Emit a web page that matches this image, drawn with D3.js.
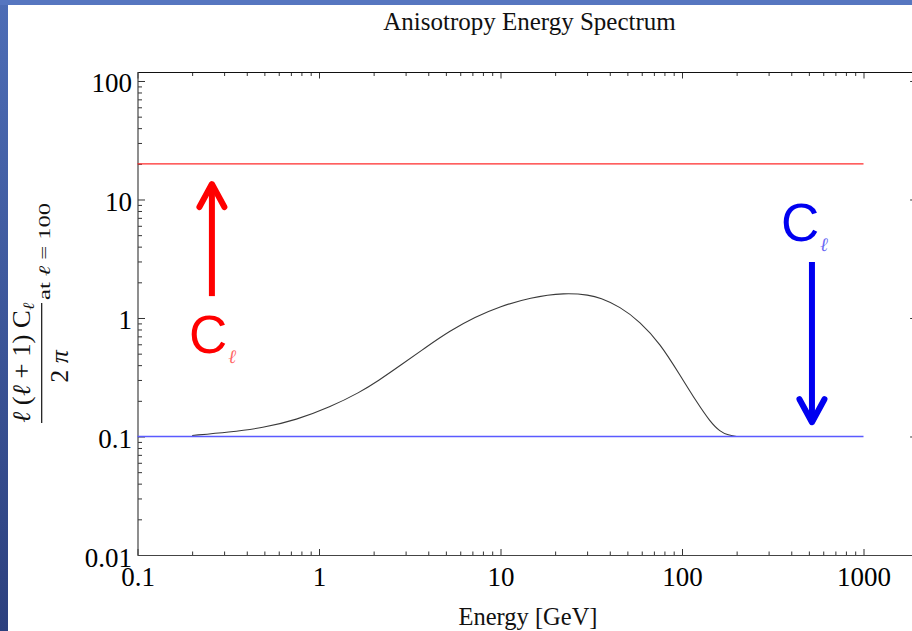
<!DOCTYPE html>
<html><head><meta charset="utf-8">
<script src="https://cdn.jsdelivr.net/npm/d3@7"></script>
<style>html,body{margin:0;padding:0;background:#fff;}svg{display:block;}</style>
</head><body>
<script>
// ---- data ----
const energy   = [0.2, 0.32, 0.49, 0.75, 1.15, 1.68, 2.12, 2.79, 3.84, 5.27, 7.24, 9.94, 14.5, 22.7, 31, 35.3, 45.5, 58.7, 75.7, 97.5, 120, 143, 162, 180, 200];
const spectrum = [0.102, 0.109, 0.118, 0.138, 0.177, 0.236, 0.295, 0.395, 0.56, 0.78, 1.02, 1.25, 1.49, 1.635, 1.56, 1.48, 1.25, 0.93, 0.61, 0.33, 0.197, 0.133, 0.11, 0.1025, 0.1];
const upperLine = [[0.1, 20], [1000, 20]];
const lowerLine = [[0.1, 0.1], [1000, 0.1]];
const xMajor = [0.1, 1, 10, 100, 1000];
const xLabels = ["0.1", "1", "10", "100", "1000"];
const yMajor = [0.01, 0.1, 1, 10, 100];
const yLabels = ["0.01", "0.1", "1", "10", "100"];
const title = "Anisotropy Energy Spectrum";
const xTitle = "Energy [GeV]";
// annotations in data units
const redArrow = {e: 0.257, from: 1.53, to: 13.5};
const blueArrow = {e: 520, from: 2.97, to: 0.132};
const redLabel = {e: 0.245, v: 0.51};
const blueLabel = {e: 447, v: 4.47};

const W = 912, H = 631;
const svg = d3.select("body").append("svg").attr("width", W).attr("height", H);
const defs = svg.append("defs");
const lg = defs.append("linearGradient").attr("id","lg").attr("x1",0).attr("y1",0).attr("x2",0).attr("y2",1);
lg.append("stop").attr("offset","0").attr("stop-color","#4d6db6");
lg.append("stop").attr("offset","1").attr("stop-color","#2c407e");
svg.append("rect").attr("width",W).attr("height",H).attr("fill","#fff");
svg.append("rect").attr("x",0).attr("y",0).attr("width",8).attr("height",H).attr("fill","url(#lg)");
svg.append("rect").attr("x",0).attr("y",0).attr("width",W).attr("height",5).attr("fill","#5676c0");

const x0 = 137.5, dec = 181.5;
const x = d3.scaleLog().domain([0.1, 2000]).range([x0, x0 + dec * Math.log10(20000)]);
const y = d3.scaleLog().domain([0.01, Math.pow(10, 2.0734)]).range([555, 72.3]);

const xMinor = [], yMinor = [];
[0.1, 1, 10, 100, 1000].forEach(d => { for (let k = 2; k <= 9; k++) { const v = d * k; if (v <= 2000) xMinor.push(v); } });
[0.01, 0.1, 1, 10, 100].forEach(d => { for (let k = 2; k <= 9; k++) { const v = d * k; if (v <= 118) yMinor.push(v); } });

const serif = "'Liberation Serif','Times New Roman',serif";
const g = svg.append("g");

function axis(gen, tv, size, fmt, tx, ty) {
  const a = gen.tickValues(tv).tickSizeInner(size).tickSizeOuter(0).tickPadding(4).tickFormat(fmt || (() => ""));
  const s = g.append("g").attr("transform", `translate(${tx},${ty})`).call(a);
  s.select(".domain").remove();
  s.selectAll(".tick line").attr("stroke", "#333").attr("stroke-width", 1);
  return s;
}
// bottom
const xb = axis(d3.axisBottom(x), xMajor, -6, (d,i) => xLabels[i], 0, 555);
xb.selectAll(".tick text").attr("font-family", serif).attr("font-size", 27).attr("fill", "#000").attr("y", 0).attr("dy", 31);
axis(d3.axisBottom(x), xMinor, -3.5, null, 0, 555);
// top
axis(d3.axisTop(x), xMajor, -6, null, 0, 72.5);
axis(d3.axisTop(x), xMinor, -3.5, null, 0, 72.5);
// left
const yl = axis(d3.axisLeft(y), yMajor, -7, (d,i) => yLabels[i], 138, 0);
yl.selectAll(".tick text").attr("font-family", serif).attr("font-size", 27).attr("fill", "#000").attr("x", -6).attr("dy", 11);
axis(d3.axisLeft(y), yMinor, -4, null, 138, 0);
// right
axis(d3.axisRight(y), yMajor, -8, null, x(2000), 0);
axis(d3.axisRight(y), yMinor, -4, null, x(2000), 0);

// frame
g.append("line").attr("x1", 138).attr("x2", W).attr("y1", 72.5).attr("y2", 72.5).attr("stroke", "#111").attr("stroke-width", 1.2);
g.append("line").attr("x1", 138).attr("x2", W).attr("y1", 555.5).attr("y2", 555.5).attr("stroke", "#444").attr("stroke-width", 1.2);
g.append("line").attr("x1", 138).attr("x2", 138).attr("y1", 72).attr("y2", 556).attr("stroke", "#444").attr("stroke-width", 1.2);

// lines
const line = d3.line().x(d => x(d[0])).y(d => y(d[1]));
g.append("path").datum(energy.map((e,i) => [e, spectrum[i]])).attr("fill","none").attr("stroke","#3a3a3a").attr("stroke-width",1.1)
  .attr("d", d3.line().x(d => x(d[0])).y(d => y(d[1])).curve(d3.curveBasis));
g.append("path").datum(upperLine).attr("d", line).attr("stroke", "#ff2a2a").attr("stroke-width", 1.2).attr("fill","none");
g.append("path").datum(lowerLine).attr("d", line).attr("stroke", "#5a5aff").attr("stroke-width", 1.4).attr("fill","none");

// arrows
function arrow(a, color) {
  const ax = x(a.e), y1 = y(a.from), y2 = y(a.to);
  const dir = y2 < y1 ? 1 : -1;
  g.append("line").attr("x1", ax).attr("x2", ax).attr("y1", y1).attr("y2", y2 + dir*2).attr("stroke", color).attr("stroke-width", 6);
  g.append("path").attr("d", `M${ax-12.5},${y2 + dir*23} L${ax},${y2} L${ax+12.5},${y2 + dir*23}`)
    .attr("fill","none").attr("stroke", color).attr("stroke-width", 6).attr("stroke-linecap","round").attr("stroke-linejoin","round");
}
arrow(redArrow, "#ff0000");
arrow(blueArrow, "#0000f0");

function cLabel(p, color) {
  g.append("text").attr("x", x(p.e)).attr("y", y(p.v)).attr("text-anchor","middle")
    .attr("font-family","'Liberation Sans',Arial,sans-serif").attr("font-size", 53).attr("fill", color).text("C");
  g.append("text").attr("x", x(p.e) + 20).attr("y", y(p.v) + 10).attr("font-family","'DejaVu Serif',serif").attr("font-style","italic")
    .attr("font-size", 19).attr("fill", color).attr("opacity", 0.6).text("ℓ");
}
cLabel(redLabel, "#ff0000");
cLabel(blueLabel, "#0000f0");

// titles
svg.append("text").attr("x", 529.5).attr("y", 30).attr("text-anchor","middle").attr("font-family", serif).attr("font-size", 25).attr("fill","#111").text(title);
svg.append("text").attr("x", 528).attr("y", 625).attr("text-anchor","middle").attr("font-family", serif).attr("font-size", 24.5).attr("fill","#111").text(xTitle);

// y label (rotated fraction)
const yg = svg.append("g").attr("transform", "rotate(-90)").attr("font-family", serif).attr("fill", "#111");
const num = yg.append("text").attr("x", -423).attr("y", 30).attr("font-size", 25)
  .attr("textLength", 120).attr("lengthAdjust", "spacingAndGlyphs");
num.append("tspan").attr("font-style","italic").text("ℓ");
num.append("tspan").text(" (");
num.append("tspan").attr("font-style","italic").text("ℓ");
num.append("tspan").text(" + 1) C");
num.append("tspan").attr("font-style","italic").attr("font-size", 16).attr("dy", 4).text("ℓ");
yg.append("line").attr("x1", -423).attr("x2", -303).attr("y1", 41.7).attr("y2", 41.7).attr("stroke", "#111").attr("stroke-width", 1.2);
const den = yg.append("text").attr("x", -366.5).attr("y", 68).attr("text-anchor","middle").attr("font-size", 26);
den.append("tspan").text("2 ");
den.append("tspan").attr("font-style","italic").text("π");
const at = yg.append("text").attr("x", -300).attr("y", 50).attr("font-size", 16)
  .attr("textLength", 97).attr("lengthAdjust", "spacingAndGlyphs");
at.append("tspan").text("at ");
at.append("tspan").attr("font-style","italic").text("ℓ");
at.append("tspan").text(" = 100");
</script>
</body></html>
